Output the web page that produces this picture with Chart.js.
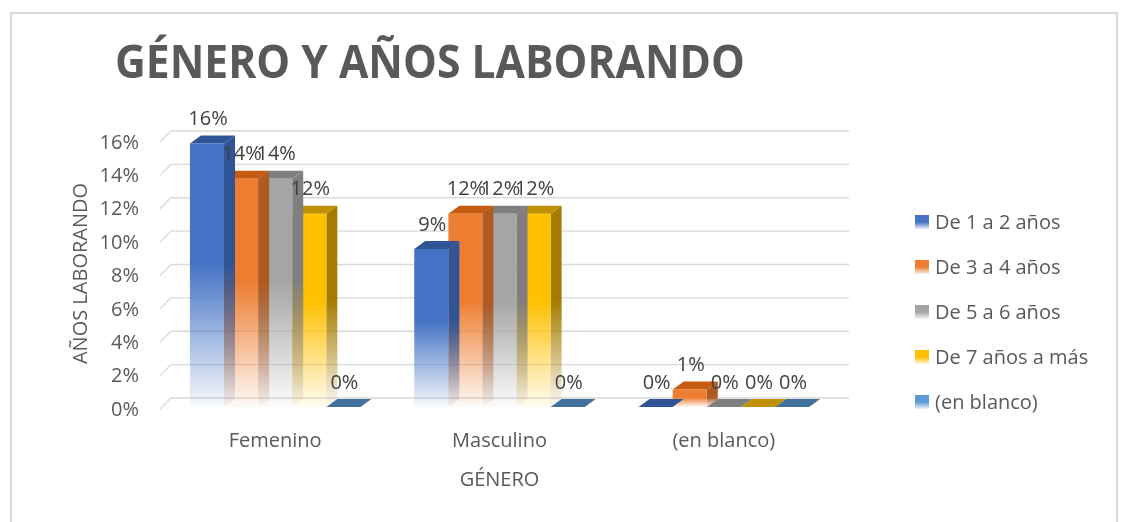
<!DOCTYPE html>
<html><head><meta charset="utf-8">
<script src="https://cdn.jsdelivr.net/npm/chart.js@4.4.0/dist/chart.umd.min.js"></script>
<style>
html,body{margin:0;padding:0;background:#fff;}
canvas{display:block;}
</style></head><body>
<canvas id="c" width="1125" height="522"></canvas>
<script>
// ---- data ----
const categories = ['Femenino', 'Masculino', '(en blanco)'];
const seriesNames = ['De 1 a 2 años', 'De 3 a 4 años', 'De 5 a 6 años', 'De 7 años a más', '(en blanco)'];
const de1a2 = [15.79, 9.47, 0];
const de3a4 = [13.68, 11.58, 1.05];
const de5a6 = [13.68, 11.58, 0];
const de7aMas = [11.58, 11.58, 0];
const enBlanco = [0, 0, 0];
const yTickValues = [0, 2, 4, 6, 8, 10, 12, 14, 16];
const chartTitle = 'GÉNERO Y AÑOS LABORANDO';
const xTitle = 'GÉNERO';
const yTitle = 'AÑOS LABORANDO';

// ---- styles ----
const FONT = "'Open Sans', 'Noto Sans', sans-serif";
const palette = [
  {front:'#4472c4', top:'#2f5597', side:'#2f5597', flat:'#2f5597'},
  {front:'#ed7d31', top:'#c55a11', side:'#ae5a21', flat:'#c55a11'},
  {front:'#a5a5a5', top:'#7f7f7f', side:'#7f7f7f', flat:'#7f7f7f'},
  {front:'#ffc000', top:'#bf9000', side:'#a67c00', flat:'#bf9000'},
  {front:'#5b9bd5', top:'#41719c', side:'#41719c', flat:'#41719c'}
];
const DX = 11, DY = -8;

function rgba(hex, a){const n=parseInt(hex.slice(1),16);return `rgba(${n>>16},${(n>>8)&255},${n&255},${a})`;}
function vgrad(ctx, col, y0, y1){
  if (!isFinite(y0) || !isFinite(y1) || y1 - y0 < 1) return col;
  const g = ctx.createLinearGradient(0, y0, 0, y1);
  g.addColorStop(0, rgba(col,1));
  g.addColorStop(0.45, rgba(col,1));
  g.addColorStop(1, rgba(col,0.04));
  return g;
}

const seriesData = [de1a2, de3a4, de5a6, de7aMas, enBlanco];
const datasets = seriesNames.map((name, i) => ({
  label: name,
  data: seriesData[i],
  borderWidth: 0,
  backgroundColor: (c) => {
    const col = palette[i].front;
    const ys = c.chart.scales && c.chart.scales.y;
    if (!ys || c.type !== 'data' || !c.parsed) return col;
    const top = ys.getPixelForValue(c.parsed.y), base = ys.getPixelForValue(0);
    return vgrad(c.chart.ctx, col, top, base);
  }
}));

const framePlugin = {
  id:'frame',
  beforeDraw(chart){
    const ctx = chart.ctx;
    ctx.save();
    ctx.fillStyle = '#fff'; ctx.fillRect(0,0,chart.width,chart.height);
    ctx.strokeStyle = '#d9d9d9'; ctx.lineWidth = 2;
    ctx.beginPath(); ctx.moveTo(11, 522); ctx.lineTo(11, 13); ctx.lineTo(1117, 13); ctx.lineTo(1117, 522); ctx.stroke();
    ctx.fillStyle = '#595959';
    ctx.font = "bold 46px " + FONT;
    ctx.textAlign = 'left'; ctx.textBaseline = 'alphabetic';
    const w = ctx.measureText(chartTitle).width;
    const sx = 630 / w;
    ctx.translate(115, 78);
    ctx.scale(sx, 1);
    ctx.fillText(chartTitle, 0, 0);
    ctx.restore();
  },
  beforeDatasetsDraw(chart){
    const ctx = chart.ctx, ys = chart.scales.y, a = chart.chartArea;
    ctx.save();
    ctx.strokeStyle = '#d9d9d9'; ctx.lineWidth = 1.3;
    yTickValues.forEach(v => {
      const y = ys.getPixelForValue(v);
      ctx.beginPath();
      ctx.moveTo(a.left - 3, y + 2);
      ctx.lineTo(a.left + 8, y - 9);
      ctx.lineTo(a.right + 13, y - 9);
      ctx.stroke();
    });
    ctx.restore();
  },
  beforeDatasetDraw(chart, args){
    const ctx = chart.ctx, p = palette[args.index];
    args.meta.data.forEach(el => {
      const {x, y, base, width} = el.getProps(['x','y','base','width'], true);
      const x0 = x - width/2, x1 = x + width/2, h = base - y;
      ctx.save();
      if (h > 0.5) {
        ctx.beginPath();
        ctx.moveTo(x1, y); ctx.lineTo(x1+DX, y+DY); ctx.lineTo(x1+DX, base+DY); ctx.lineTo(x1, base); ctx.closePath();
        ctx.fillStyle = vgrad(ctx, p.side, y, base); ctx.fill();
      }
      ctx.beginPath();
      ctx.moveTo(x0, y); ctx.lineTo(x1, y); ctx.lineTo(x1+DX, y+DY); ctx.lineTo(x0+DX, y+DY); ctx.closePath();
      ctx.fillStyle = h > 0.5 ? p.top : p.flat; ctx.fill();
      ctx.restore();
    });
  },
  afterDatasetsDraw(chart){
    const ctx = chart.ctx;
    ctx.save();
    ctx.font = "20px " + FONT; ctx.fillStyle = '#404040';
    ctx.textAlign = 'center'; ctx.textBaseline = 'middle';
    chart.data.datasets.forEach((ds, i) => {
      chart.getDatasetMeta(i).data.forEach((el, j) => {
        const {x, y} = el.getProps(['x','y'], true);
        ctx.fillText(Math.round(ds.data[j]) + '%', x + 1, y + DY - 16);
      });
    });
    ctx.restore();
  },
  afterDraw(chart){
    const ctx = chart.ctx;
    ctx.save();
    ctx.font = "20px " + FONT; ctx.textAlign = 'left'; ctx.textBaseline = 'alphabetic';
    seriesNames.forEach((name, i) => {
      const top = 215 + i*45;
      const g = ctx.createLinearGradient(0, top, 0, top + 14);
      g.addColorStop(0, rgba(palette[i].front,1)); g.addColorStop(0.5, rgba(palette[i].front,1)); g.addColorStop(1, rgba(palette[i].front,0.1));
      ctx.fillStyle = g; ctx.fillRect(915, top, 14, 14);
      ctx.fillStyle = '#595959';
      ctx.fillText(name, 935, top + 14);
    });
    ctx.restore();
  }
};

new Chart(document.getElementById('c'), {
  type: 'bar',
  data: { labels: categories, datasets },
  options: {
    responsive: false,
    animation: false,
    devicePixelRatio: 1,
    layout: { padding: { left: 0, right: 289, top: 140, bottom: 0 } },
    datasets: { bar: { categoryPercentage: 0.76, barPercentage: 1 } },
    plugins: { legend: { display: false }, title: { display: false }, tooltip: { enabled: false } },
    scales: {
      x: {
        grid: { display: false, drawTicks: false },
        border: { display: false },
        ticks: { color: '#595959', font: { family: FONT, size: 20 }, padding: 22 },
        title: { display: true, text: xTitle, color: '#595959', font: { family: FONT, size: 20 }, padding: { top: 0, bottom: 30 } },
        afterFit: s => { s.height = 115; }
      },
      y: {
        min: 0, max: 16,
        grid: { display: false, drawTicks: false },
        border: { display: false },
        ticks: { stepSize: 2, color: '#595959', font: { family: FONT, size: 20 }, padding: 24, labelOffset: 3, callback: v => v + '%' },
        title: { display: true, text: yTitle, color: '#595959', font: { family: FONT, size: 20 }, padding: { top: 69, bottom: 0 } },
        afterFit: s => { s.width = 163; }
      }
    }
  },
  plugins: [framePlugin]
});
</script>
</body></html>
